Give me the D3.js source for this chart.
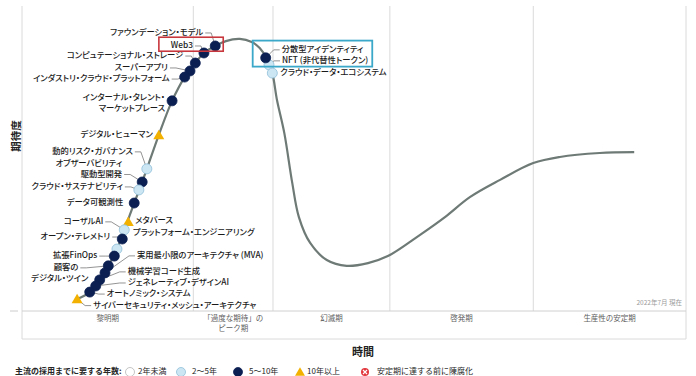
<!DOCTYPE html>
<meta charset="utf-8">
<script src="https://d3js.org/d3.v7.min.js"></script>
<style>
  body { margin: 0; background: #fff; }
  svg text { font-family: "Noto Sans CJK JP", "Noto Sans", sans-serif; }
  .lbl { font-feature-settings: "palt"; }
</style>
<div id="chart"></div>
<script>

// phases of the hype cycle and their boundaries on the time axis (0-100)
var phases = ["黎明期", "「過度な期待」の\nピーク期", "幻滅期", "啓発期", "生産性の安定期"];
var phaseBounds = [0, 25.8, 37.8, 55.4, 77.0, 100];

// the hype curve itself: time vs expectation
var curveT = [8.3, 10.2, 11.7, 13.0, 14.3, 15.4, 16.9, 18.1, 18.8, 20.6, 22.6, 24.5, 26.1, 27.4, 29.1, 30.7,
              32.8, 34.6, 35.8, 36.9, 37.7, 38.4, 39.5, 40.7, 41.7, 43.4, 45.9, 48.9, 52.1, 55.1, 59.9, 63.7,
              67.5, 72.0, 77.0, 81.0, 87.0, 92.2];
var curveE = [3.9, 6.2, 10.2, 14.8, 20.3, 26.6, 35.4, 42.3, 46.6, 57.7, 68.9, 76.7, 81.3, 84.6, 86.9, 88.5,
              89.2, 88.2, 86.2, 82.6, 78.0, 69.2, 58.4, 42.0, 30.8, 22.3, 16.7, 14.8, 15.7, 18.0, 24.9, 30.8,
              37.4, 43.0, 48.5, 50.5, 51.8, 52.1];

// technologies (draw order), position on the cycle and years to mainstream adoption
var techNames = [
  "ファウンデーション・モデル", "Web3", "コンピュテーショナル・ストレージ", "スーパーアプリ",
  "インダストリ・クラウド・プラットフォーム", "インターナル・タレント・\nマーケットプレース", "デジタル・ヒューマン",
  "動的リスク・ガバナンス", "オブザーバビリティ\n駆動型開発", "クラウド・サステナビリティ", "データ可観測性",
  "メタバース", "コーザルAI", "プラットフォーム・エンジニアリング", "オープン・テレメトリ", "拡張FinOps",
  "顧客の\nデジタル・ツイン", "実用最小限のアーキテクチャ (MVA)", "機械学習コード生成",
  "ジェネレーティブ・デザインAI", "オートノミック・システム", "サイバーセキュリティ・メッシュ・アーキテクチャ",
  "NFT (非代替性トークン)", "分散型アイデンティティ", "クラウド・データ・エコシステム"
];
var techT = [29.1, 27.4, 26.1, 25.3, 24.5, 22.6, 20.6, 18.8, 18.1, 17.6, 16.9, 16.0, 15.4, 14.3, 15.1, 13.9,
             13.0, 12.5, 11.7, 11.1, 10.2, 8.3, 37.2, 36.7, 37.7];
var techE = [86.9, 84.6, 81.3, 78.7, 76.7, 68.9, 57.7, 46.6, 42.3, 39.7, 35.4, 29.2, 26.6, 20.3, 23.6, 18.0,
             14.8, 12.5, 10.2, 8.2, 6.2, 3.9, 80.7, 83.0, 78.0];
var techYears = ["5-10", "5-10", "5-10", "5-10", "5-10", "5-10", "10+", "2-5", "5-10", "2-5", "5-10",
                 "10+", "2-5", "2-5", "5-10", "5-10", "5-10", "5-10", "5-10", "5-10", "5-10", "10+",
                 "2-5", "5-10", "2-5"];

// legend
var legendKeys = ["<2", "2-5", "5-10", "10+", "obsolete"];
var legendLabels = ["2年未満", "2～5年", "5～10年", "10年以上", "安定期に達する前に陳腐化"];

// label placement relative to each marker (pixels): dx, dy, side, leader line, per-line dx
var labelPos = [
  {dx: -12, dy: -13, a: "end", lead: true},
  {dx: -11, dy: -7, a: "end", lead: true},
  {dx: -12, dy: -7, a: "end", lead: true},
  {dx: -22, dy: -3, a: "end", lead: true},
  {dx: -15, dy: 2, a: "end", lead: true},
  {dx: -7, dy: -3, a: "end", lead: false},
  {dx: -6, dy: 0, a: "end", lead: false},
  {dx: -14, dy: -17, a: "end", lead: true},
  {dx: -20, dy: -18, a: "end", lead: true},
  {dx: -16, dy: -3, a: "end", lead: true},
  {dx: -11, dy: 0, a: "end", lead: false},
  {dx: 7, dy: -1, a: "start", lead: false},
  {dx: -21, dy: -8, a: "end", lead: true},
  {dx: 16, dy: -16, a: "start", lead: false},
  {dx: -12, dy: -2, a: "end", lead: true},
  {dx: -17, dy: 0, a: "end", lead: true},
  {dx: -20, dy: 2, a: "end", lead: true, ldx: [-10, 0]},
  {dx: 32, dy: -17, a: "start", lead: true},
  {dx: 28, dy: -8, a: "start", lead: true},
  {dx: 32, dy: -3, a: "start", lead: true},
  {dx: 17, dy: 2, a: "start", lead: true},
  {dx: 16, dy: 6.5, a: "start", lead: true},
  {dx: 13, dy: -4, a: "start", lead: true},
  {dx: 16, dy: -8, a: "start", lead: true},
  {dx: 8, dy: 0, a: "start", lead: false}
];

var W = 696, H = 376, bandBottom = 339;
var x = d3.scaleLinear().domain([0, 100]).range([22, 686]);
var y = d3.scaleLinear().domain([0, 100]).range([311, 6]);

var svg = d3.select("#chart").append("svg")
    .attr("width", W)
    .attr("height", H);

// vertical grid lines at phase boundaries (outer ones run through the phase band)
svg.selectAll(".grid")
  .data(phaseBounds)
  .enter().append("line")
    .attr("x1", function(d) { return x(d); })
    .attr("x2", function(d) { return x(d); })
    .attr("y1", y(100))
    .attr("y2", function(d) { return (d === 0 || d === 100) ? bandBottom : y(0); })
    .attr("stroke", "#dadada");

// phase band
svg.append("line").attr("x1", x(0)).attr("x2", x(100)).attr("y1", y(0)).attr("y2", y(0)).attr("stroke", "#d0d0d0");
svg.append("line").attr("x1", x(0)).attr("x2", x(100)).attr("y1", bandBottom).attr("y2", bandBottom).attr("stroke", "#dadada");
svg.append("line").attr("x1", 10).attr("x2", 18).attr("y1", y(0)).attr("y2", y(0)).attr("stroke", "#cccccc");

phases.forEach(function(p, i) {
  var cx = (x(phaseBounds[i]) + x(phaseBounds[i + 1])) / 2;
  p.split("\n").forEach(function(line, j) {
    svg.append("text")
      .attr("x", cx).attr("y", 319 + j * 10)
      .attr("text-anchor", "middle")
      .attr("dominant-baseline", "middle")
      .attr("font-size", 7.5)
      .attr("fill", "#5e5e5e")
      .text(line);
  });
});

svg.append("text")
  .attr("x", x(100) - 4).attr("y", y(0) - 6)
  .attr("text-anchor", "end")
  .attr("font-size", 6.5)
  .attr("fill", "#9a9a9a")
  .text("2022年7月 現在");

// the curve
var line = d3.line()
  .x(function(d, i) { return x(curveT[i]); })
  .y(function(d, i) { return y(curveE[i]); })
  .curve(d3.curveCatmullRom.alpha(0.5));

svg.append("path")
  .attr("d", line(curveT))
  .attr("fill", "none")
  .attr("stroke", "#6e7a75")
  .attr("stroke-width", 2.2);

var techs = techNames.map(function(n, i) {
  return {name: n, t: techT[i], e: techE[i], years: techYears[i], lp: labelPos[i]};
});

// labels and leader lines
var labelNodes = {};
techs.forEach(function(d) {
  var px = x(d.t), py = y(d.e), lp = d.lp;
  var lines = d.name.split("\n");
  var lx = px + lp.dx, ly = py + lp.dy;
  var dir = lp.a === "end" ? 1 : -1;
  var nodes = [];
  lines.forEach(function(l, j) {
    var off = lp.ldx ? lp.ldx[j] : 0;
    nodes.push(svg.append("text")
      .attr("class", "lbl")
      .attr("x", lx + off).attr("y", ly + j * 10.5)
      .attr("text-anchor", lp.a)
      .attr("dominant-baseline", "middle")
      .attr("font-size", 8.3)
      .attr("font-weight", 500)
      .attr("fill", "#1a1a1a")
      .text(l).node());
  });
  labelNodes[d.name] = nodes;
  if (lp.lead) {
    var j = lp.ldx ? 0 : lines.length - 1;
    var sx = lx + (lp.ldx ? lp.ldx[j] : 0) + dir * 2, sy = ly + j * 10.5;
    svg.insert("path", "path")
      .attr("d", "M" + sx + "," + sy + "H" + (sx + dir * 6) + "L" + px + "," + py)
      .attr("fill", "none")
      .attr("stroke", "#666")
      .attr("stroke-width", 0.7);
  }
});

// markers
function drawMarker(g, key, cx, cy, r) {
  if (key === "10+") {
    g.append("path")
      .attr("d", d3.symbol().type(d3.symbolTriangle).size(r * r * 2.1)())
      .attr("transform", "translate(" + cx + "," + (cy + 1) + ")")
      .attr("fill", "#f2b000");
  } else if (key === "obsolete") {
    g.append("circle").attr("cx", cx).attr("cy", cy).attr("r", r - 0.5).attr("fill", "#e2363c");
    g.append("path")
      .attr("d", "M" + (cx - 2) + "," + (cy - 2) + "L" + (cx + 2) + "," + (cy + 2) +
                 "M" + (cx + 2) + "," + (cy - 2) + "L" + (cx - 2) + "," + (cy + 2))
      .attr("stroke", "#fff").attr("stroke-width", 1.2);
  } else {
    var fill = key === "5-10" ? "#0b1f52" : key === "2-5" ? "#cde6f4" : "#ffffff";
    var stroke = key === "5-10" ? "#0b1f52" : key === "2-5" ? "#8fbfd8" : "#b5b5b5";
    g.append("circle").attr("cx", cx).attr("cy", cy).attr("r", r)
      .attr("fill", fill).attr("stroke", stroke).attr("stroke-width", 0.8);
  }
}

var marks = svg.append("g");
techs.forEach(function(d) { drawMarker(marks, d.years, x(d.t), y(d.e), 5); });

// highlight boxes
function bboxOf(nodes) {
  var b = nodes.map(function(n) { return n.getBBox(); });
  return {
    x0: d3.min(b, function(r) { return r.x; }), x1: d3.max(b, function(r) { return r.x + r.width; }),
    y0: d3.min(b, function(r) { return r.y; }), y1: d3.max(b, function(r) { return r.y + r.height; })
  };
}
var rb = bboxOf(labelNodes["Web3"]);
svg.append("rect")
  .attr("x", rb.x0 - 12).attr("y", rb.y0 - 1)
  .attr("width", x(techT[0]) + 8 - (rb.x0 - 12)).attr("height", rb.y1 - rb.y0 + 2)
  .attr("fill", "none").attr("stroke", "#c8373d").attr("stroke-width", 1.6);

var bb = bboxOf(labelNodes["NFT (非代替性トークン)"].concat(labelNodes["分散型アイデンティティ"]));
var bx0 = x(techT[23]) - 13;
svg.append("rect")
  .attr("x", bx0).attr("y", bb.y0 - 1.5)
  .attr("width", bb.x1 + 4 - bx0).attr("height", bb.y1 - bb.y0 + 3)
  .attr("fill", "none").attr("stroke", "#3ba7c9").attr("stroke-width", 1.8);

// axis titles
svg.append("text")
  .attr("transform", "translate(17,136) rotate(-90)")
  .attr("text-anchor", "middle")
  .attr("dominant-baseline", "middle")
  .attr("font-size", 10.5)
  .attr("font-weight", "bold")
  .attr("fill", "#222")
  .text("期待度");

svg.append("text")
  .attr("x", 363).attr("y", 353)
  .attr("text-anchor", "middle")
  .attr("dominant-baseline", "middle")
  .attr("font-size", 11)
  .attr("font-weight", "bold")
  .attr("fill", "#222")
  .text("時間");

// legend
var legY = 372;
var legSymX = [130, 181, 238, 300, 365];
var legTextX = [138, 192, 249, 307, 377];
svg.append("text")
  .attr("x", 15).attr("y", legY)
  .attr("dominant-baseline", "middle")
  .attr("font-size", 8)
  .attr("font-weight", "bold")
  .attr("fill", "#262626")
  .text("主流の採用までに要する年数:");

var leg = svg.append("g");
legendKeys.forEach(function(k, i) {
  drawMarker(leg, k, legSymX[i], legY, 4.5);
  leg.append("text")
    .attr("x", legTextX[i]).attr("y", legY)
    .attr("dominant-baseline", "middle")
    .attr("font-size", 8)
    .attr("fill", "#262626")
    .text(legendLabels[i]);
});

</script>
